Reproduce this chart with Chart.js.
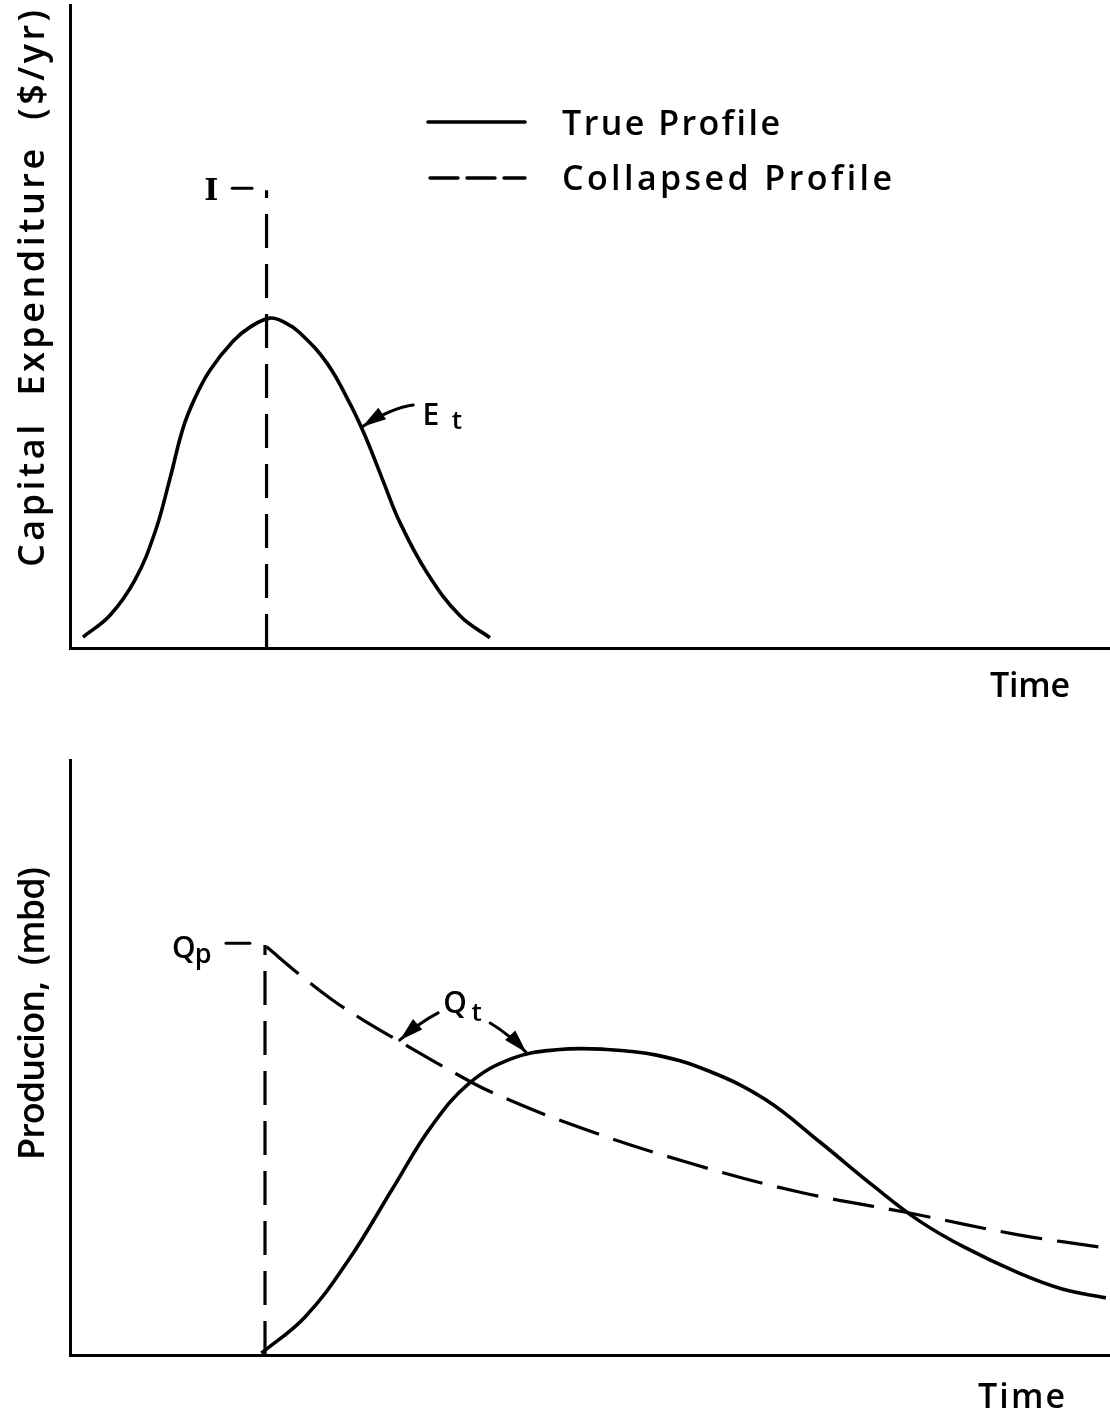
<!DOCTYPE html>
<html>
<head>
<meta charset="utf-8">
<script src="https://cdn.jsdelivr.net/npm/chart.js@4.4.1/dist/chart.umd.min.js"></script>
<style>
  body { margin: 0; background: #fff; }
  #wrap { position: relative; width: 1110px; height: 1420px; }
  canvas { position: absolute; left: 0; }
  #top { top: 0; }
  #bottom { top: 710px; }
</style>
</head>
<body>
<div id="wrap">
  <canvas id="top" width="1110" height="710"></canvas>
  <canvas id="bottom" width="1110" height="710"></canvas>
</div>
<script>
//Data (arbitrary time / value units)

//top panel: capital expenditure E_t
let expTime = [1.25, 3.85, 6.25, 8.17, 9.62, 10.87, 12.02, 13.46, 15.67, 17.31, 19.23, 20.67, 22.12, 24.71, 26.92, 28.37, 30.1, 31.73, 34.33, 37.5, 40.38];
let expValue = [1.7, 5.1, 10.6, 18.0, 26.4, 34.2, 38.9, 43.2, 47.7, 49.9, 51.3, 50.6, 49.0, 44.3, 38.0, 33.0, 26.0, 19.5, 11.7, 5.0, 1.6];
//collapsed capital expenditure: impulse I
let impulseTime = [18.9, 18.9];
let impulseValue = [0, 71.2];

//bottom panel: production Q_t
let prodTime = [18.4, 22.6, 26.8, 31.1, 34.7, 38.4, 42.6, 46.8, 51.1, 56.4, 61.6, 66.9, 72.1, 77.4, 81.7, 85.9, 91.2, 95.4, 99.6];
let prodValue = [0.3, 6.4, 16.0, 28.2, 38.3, 45.7, 49.9, 51.3, 51.4, 50.4, 47.6, 42.9, 35.8, 28.2, 22.5, 18.2, 13.8, 11.1, 9.6];
//collapsed production: jump to Q_p then decline
let jumpTime = [18.75, 18.75];
let jumpValue = [0, 68.9];
let collapsedTime = [18.9, 22.1, 25.2, 28.2, 31.5, 37.3, 40.5, 48.9, 59.5, 70.1, 80.6, 91.2, 99.6];
let collapsedValue = [68.6, 63.9, 59.7, 56.3, 52.9, 47.1, 44.2, 38.3, 32.3, 27.4, 23.9, 20.2, 18.0];

const FONT = '"Open Sans", "DejaVu Sans", sans-serif';

function toPoints(xs, ys) {
  return xs.map((x, i) => ({ x: x, y: ys[i] }));
}

function solid(xs, ys) {
  return { data: toPoints(xs, ys), borderColor: "#000", borderWidth: 3.6, pointRadius: 0, tension: 0.4, fill: false };
}

function dashed(xs, ys, dash, tension) {
  return { data: toPoints(xs, ys), borderColor: "#000", borderWidth: 3.2, borderDash: dash, pointRadius: 0, tension: tension, fill: false };
}

//draw a curved leader with an arrow head at the end
function arrow(ctx, x0, y0, cx, cy, x1, y1) {
  ctx.beginPath();
  ctx.moveTo(x0, y0);
  ctx.quadraticCurveTo(cx, cy, x1, y1);
  ctx.lineWidth = 3;
  ctx.stroke();
  let a = Math.atan2(y1 - cy, x1 - cx);
  let len = 24, w = 7;
  ctx.beginPath();
  ctx.moveTo(x1, y1);
  ctx.lineTo(x1 - len * Math.cos(a) + w * Math.sin(a), y1 - len * Math.sin(a) - w * Math.cos(a));
  ctx.lineTo(x1 - len * Math.cos(a) - w * Math.sin(a), y1 - len * Math.sin(a) + w * Math.cos(a));
  ctx.closePath();
  ctx.fill();
}

//text stretched with letter spacing so it covers a given width
function fitText(ctx, str, x, y, width, size) {
  ctx.font = `600 ${size}px ${FONT}`;
  ctx.textAlign = "left";
  ctx.textBaseline = "alphabetic";
  ctx.letterSpacing = "0px";
  let w = ctx.measureText(str).width;
  ctx.letterSpacing = (width - w) / (str.length - 1) + "px";
  ctx.fillText(str, x, y);
  ctx.letterSpacing = "0px";
}

function text(ctx, str, x, y, size, family) {
  ctx.font = `600 ${size}px ${family || FONT}`;
  ctx.textAlign = "left";
  ctx.textBaseline = "alphabetic";
  ctx.fillText(str, x, y);
}

function yTitle(ctx, str, x, yStart, yEnd, size) {
  ctx.save();
  ctx.translate(x, yStart);
  ctx.rotate(-Math.PI / 2);
  fitText(ctx, str, 0, 0, yStart - yEnd, size);
  ctx.restore();
}

function segment(ctx, x0, y0, x1, y1, width, dash) {
  ctx.save();
  ctx.beginPath();
  ctx.setLineDash(dash || []);
  ctx.moveTo(x0, y0);
  ctx.lineTo(x1, y1);
  ctx.lineWidth = width;
  ctx.stroke();
  ctx.restore();
}

//labels, leaders and axis titles
function annotate(draw) {
  return {
    id: "notes",
    afterDatasetsDraw(chart) {
      let ctx = chart.ctx;
      let xs = chart.scales.x, ys = chart.scales.y;
      let px = v => xs.getPixelForValue(v);
      let py = v => ys.getPixelForValue(v);
      ctx.save();
      ctx.fillStyle = "#000";
      ctx.strokeStyle = "#000";
      ctx.lineCap = "round";
      draw(ctx, px, py, chart);
      ctx.restore();
    }
  };
}

function options(padTop, axisHeight) {
  return {
    responsive: false,
    animation: false,
    layout: { padding: { top: padTop, right: 0, left: 0, bottom: 0 } },
    plugins: { legend: { display: false }, tooltip: { enabled: false } },
    scales: {
      x: {
        type: "linear", min: 0, max: 100,
        grid: { display: false, drawTicks: false },
        ticks: { display: false },
        border: { display: true, color: "#000", width: 3 },
        afterFit: s => { s.height = axisHeight; }
      },
      y: {
        type: "linear", min: 0, max: 100,
        grid: { display: false, drawTicks: false },
        ticks: { display: false },
        border: { display: true, color: "#000", width: 3 },
        afterFit: s => { s.width = 70; }
      }
    }
  };
}

//top chart
new Chart(document.getElementById("top"), {
  type: "line",
  data: {
    datasets: [
      Object.assign(solid(expTime, expValue), { label: "True Profile" }),
      Object.assign(dashed(impulseTime, impulseValue, [34, 16], 0), { label: "Collapsed Profile" })
    ]
  },
  options: options(5, 62),
  plugins: [annotate((ctx, px, py, chart) => {
    let sets = chart.data.datasets;
    yTitle(ctx, "Capital  Expenditure  ($/yr)", 44, 567, 10, 36);
    fitText(ctx, "Time", 990, 697, 80, 34);
    //legend
    segment(ctx, 428, 122, 525, 122, 3.6);
    fitText(ctx, sets[0].label, 562, 135, 218, 34);
    segment(ctx, 430, 178, 525, 178, 3.4, [28, 9]);
    fitText(ctx, sets[1].label, 562, 190, 330, 34);
    //impulse label
    text(ctx, "I", px(12.9), py(69.7), 30, '"DejaVu Serif", serif');
    segment(ctx, px(15.6), py(71.5), px(17.5), py(71.5), 3);
    //E_t
    text(ctx, "E", px(33.9), py(34.7), 30);
    text(ctx, "t", px(36.7), py(34.0), 26);
    arrow(ctx, px(33.0), py(37.8), px(30.8), py(37.3), px(28.1), py(34.4));
  })]
});

//bottom chart
new Chart(document.getElementById("bottom"), {
  type: "line",
  data: {
    datasets: [
      Object.assign(solid(prodTime, prodValue), { label: "True Profile" }),
      Object.assign(dashed(jumpTime, jumpValue, [34, 16], 0), { label: "Collapsed Profile" }),
      Object.assign(dashed(collapsedTime, collapsedValue, [42, 15], 0.4), { label: "Collapsed Profile" })
    ]
  },
  options: options(50, 65),
  plugins: [annotate((ctx, px, py) => {
    yTitle(ctx, "Producion,  (mbd)", 44, 450, 157, 36);
    fitText(ctx, "Time", 978, 698, 87, 34);
    //Q_p
    text(ctx, "Q", px(9.8), py(66.7), 30);
    text(ctx, "p", px(12.0), py(65.9), 27);
    segment(ctx, px(15.0), py(69.2), px(17.3), py(69.2), 3);
    //Q_t
    text(ctx, "Q", px(35.9), py(57.5), 30);
    text(ctx, "t", px(38.6), py(56.1), 26);
    arrow(ctx, px(35.4), py(57.5), px(33.7), py(56.0), px(31.7), py(52.9));
    arrow(ctx, px(40.4), py(55.8), px(42.3), py(53.8), px(43.9), py(50.8));
  })]
});
</script>
</body>
</html>
